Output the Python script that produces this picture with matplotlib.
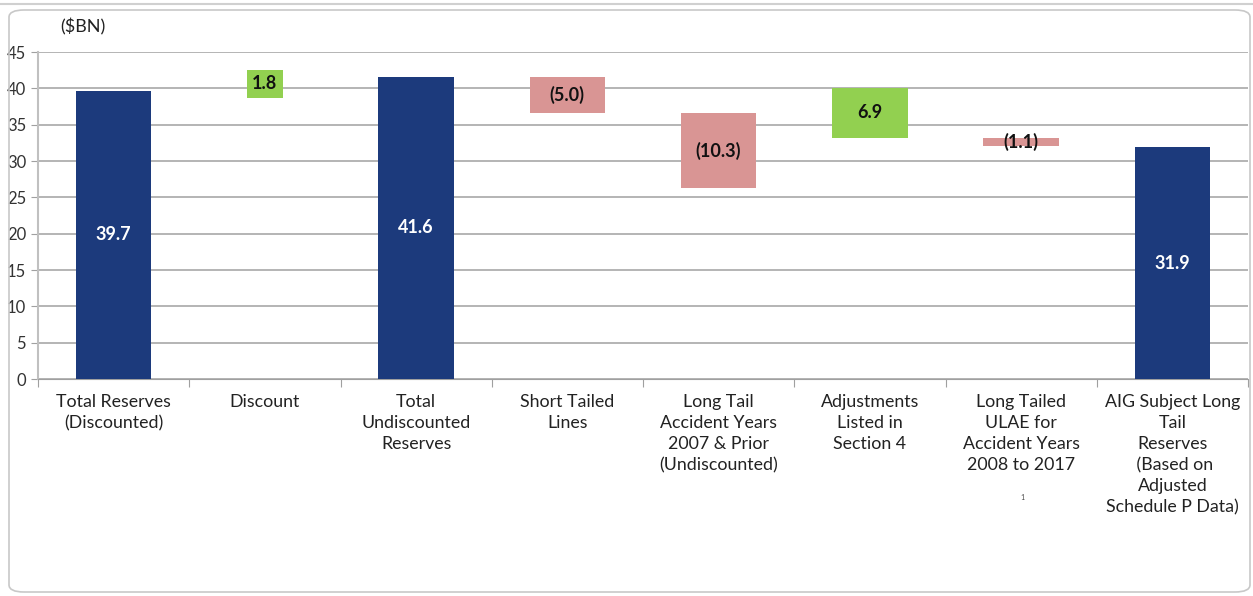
import matplotlib.pyplot as plt
from matplotlib.patches import FancyBboxPatch

categories = ['Total Reserves\n(Discounted)', 'Discount', 'Total\nUndiscounted\nReserves',
              'Short Tailed\nLines', 'Long Tail\nAccident Years\n2007 & Prior\n(Undiscounted)',
              'Adjustments\nListed in\nSection 4', 'Long Tailed\nULAE for\nAccident Years\n2008 to 2017',
              'AIG Subject Long\nTail\nReserves\n (Based on\nAdjusted\nSchedule P Data)']
values = [39.7, 1.8, 41.6, -5.0, -10.3, 6.9, -1.1, 31.9]
# invisible base series of the waterfall, as drawn in the source chart
bases = [0, 39.7, 0, 36.6, 26.3, 33.2, 32.1, 0]
kinds = ['total', 'delta', 'total', 'delta', 'delta', 'delta', 'delta', 'total']
labels = ['39.7', '1.8', '41.6', '(5.0)', '(10.3)', '6.9', '(1.1)', '31.9']

navy = '#1c3a7c'
red = '#d99594'
green = '#92d050'

plt.rcParams['font.family'] = ['Lato', 'DejaVu Sans']

fig = plt.figure(figsize=(12.53, 5.96), dpi=100)
ax = fig.add_axes([38 / 1253, 1 - 379 / 596, 1210 / 1253, 327 / 596])

# outer frame like the pasted chart object
frame = FancyBboxPatch((9 / 1253, 4 / 596), 1241 / 1253, 582 / 596,
                       boxstyle='round,pad=0,rounding_size=0.012',
                       transform=fig.transFigure, fill=False,
                       edgecolor='#c8c8c8', linewidth=1.2)
fig.patches.append(frame)
fig.add_artist(plt.Line2D([0, 1], [1 - 4 / 596, 1 - 4 / 596], color='#d0d0d0', lw=1.5))

for i, v in enumerate(values):
    if kinds[i] == 'total':
        color = navy
    else:
        color = green if v > 0 else red
    bottom = bases[i]
    height = abs(v)
    width = 0.5
    if i == 1:
        width = 0.2
    ax.bar(i, height, bottom=bottom, width=width, color=color, zorder=3)
    txt_color = 'white' if kinds[i] == 'total' else '#111111'
    if i == 1:
        ax.text(i, bottom + height / 2, labels[i], ha='center', va='center', fontsize=13,
                fontweight='bold', color=txt_color, zorder=4,
                bbox=dict(boxstyle='square,pad=0.3', facecolor=green, edgecolor='none'))
    else:
        ax.text(i, bottom + height / 2, labels[i], ha='center', va='center', fontsize=13,
                fontweight='bold', color=txt_color, zorder=4)

ax.set_xlim(-0.5, 7.5)
ax.set_ylim(0, 45)
ax.set_yticks(range(0, 46, 5))
ax.tick_params(axis='y', labelsize=12, length=5, color='#a0a0a0', colors='#333333')
ax.yaxis.grid(True, color='#a0a0a0', lw=1.1, zorder=0)

ax.set_xticks([i + 0.5 for i in range(-1, 8)])
ax.set_xticklabels([])
ax.tick_params(axis='x', length=6, color='#a0a0a0')
for i, c in enumerate(categories):
    ax.text(i, -2.1, c, ha='center', va='top', fontsize=12.8, color='#222222', linespacing=1.38)

for s in ['top', 'right']:
    ax.spines[s].set_visible(False)
ax.spines['left'].set_color('#c0c0c0')
ax.spines['left'].set_linewidth(1.5)
ax.spines['bottom'].set_color('#a0a0a0')

fig.text(60 / 1253, 1 - 27 / 596, '($BN)', fontsize=13, color='#222222', va='center')
fig.text(1022 / 1253, 1 - 497 / 596, '1', fontsize=5, color='#444444', ha='center', va='center')

plt.savefig('out.png', dpi=100)
